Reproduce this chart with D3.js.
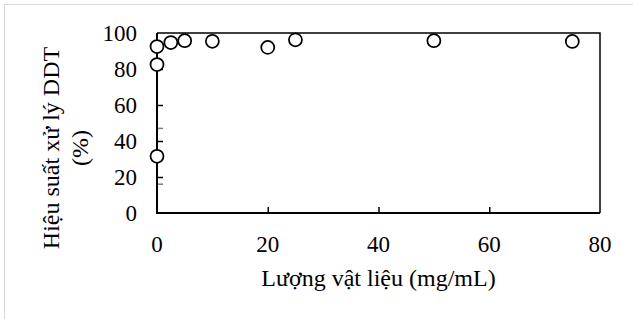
<!DOCTYPE html>
<html>
<head>
<meta charset="utf-8">
<script src="https://cdn.jsdelivr.net/npm/d3@7"></script>
<style>
  body { margin: 0; background: #fff; }
</style>
</head>
<body>
<div id="chart"></div>
<script>
var w = 633
var h = 319

// data
var amount = [0, 0, 0, 2.5, 5, 10, 20, 25, 50, 75]
var efficiency = [31.5, 82.5, 92.5, 94.7, 95.7, 95.4, 92, 96.2, 95.7, 95.3]
// error bar of the first point (low / high)
var errLow = [16, null, null, null, null, null, null, null, null, null]
var errHigh = [47, null, null, null, null, null, null, null, null, null]

var xTicks = [0, 20, 40, 60, 80]
var yTicks = [0, 20, 40, 60, 80, 100]

var xTitle = "Lượng vật liệu (mg/mL)"
var yTitle1 = "Hiệu suất xử lý DDT"
var yTitle2 = "(%)"

var font = "'Liberation Serif'"
var fs = 23      // tick labels
var fsTitle = 24 // axis titles

var pLeft = 157, pRight = 600, pTop = 33, pBottom = 213

var svg = d3.select("#chart").append("svg").attr("width", w).attr("height", h)

// outer chart border
svg.append("rect")
    .attr("x", 4.5).attr("y", 4.5)
    .attr("width", w + 20).attr("height", h + 20)
    .attr("fill", "none")
    .attr("stroke", "#d9d9d9")
    .attr("stroke-width", 1)

var x = d3.scaleLinear().domain([0, 80]).range([pLeft, pRight])
var y = d3.scaleLinear().domain([0, 100]).range([pBottom, pTop])

svg.append("clipPath").attr("id", "plot")
    .append("rect")
    .attr("x", pLeft).attr("y", pTop - 10)
    .attr("width", pRight - pLeft + 10).attr("height", pBottom - pTop + 10)

// frame top + right
svg.append("path")
    .attr("d", "M" + pLeft + "," + pTop + "H" + pRight + "V" + pBottom)
    .attr("fill", "none")
    .attr("stroke", "#000")
    .attr("stroke-width", 1.5)

// x axis, ticks pointing inward
var xAxis = svg.append("g")
    .attr("transform", "translate(0," + pBottom + ")")
    .call(d3.axisTop(x).tickValues(xTicks).tickSize(6).tickFormat(""))
xAxis.select(".domain").remove()
xAxis.selectAll("line").attr("stroke", "#000").attr("stroke-width", 1.5)
xAxis.selectAll(".tick").filter(function(d) { return d == 0 || d == 80 }).remove()

svg.selectAll("text.xlab")
    .data(xTicks)
    .enter()
    .append("text")
    .attr("class", "xlab")
    .attr("x", function(d) { return x(d) })
    .attr("y", pBottom + 39)
    .attr("text-anchor", "middle")
    .style("font-family", font)
    .attr("font-size", fs)
    .text(function(d) { return d })

// y axis ticks pointing inward
var yAxis = svg.append("g")
    .attr("transform", "translate(" + pLeft + ",0)")
    .call(d3.axisRight(y).tickValues(yTicks).tickSize(6).tickFormat(""))
yAxis.select(".domain").remove()
yAxis.selectAll("line").attr("stroke", "#000").attr("stroke-width", 1.5)
yAxis.selectAll(".tick").filter(function(d) { return d == 0 || d == 100 }).remove()

svg.selectAll("text.ylab")
    .data(yTicks)
    .enter()
    .append("text")
    .attr("class", "ylab")
    .attr("x", pLeft - 20)
    .attr("y", function(d) { return y(d) + 8 })
    .attr("text-anchor", "end")
    .style("font-family", font)
    .attr("font-size", fs)
    .text(function(d) { return d })

// error bars (gray), clipped to the plot area
var eb = svg.append("g").attr("clip-path", "url(#plot)")
amount.forEach(function(a, i) {
    if (errLow[i] == null) return
    eb.append("line")
        .attr("x1", x(a)).attr("x2", x(a))
        .attr("y1", y(errLow[i])).attr("y2", y(errHigh[i]))
        .attr("stroke", "#7f7f7f").attr("stroke-width", 1.5)
    ;[errLow[i], errHigh[i]].forEach(function(v) {
        eb.append("line")
            .attr("x1", x(a) - 6).attr("x2", x(a) + 6)
            .attr("y1", y(v)).attr("y2", y(v))
            .attr("stroke", "#7f7f7f").attr("stroke-width", 1.5)
    })
})

// left + bottom axis lines
svg.append("path")
    .attr("d", "M" + pLeft + "," + pTop + "V" + pBottom + "H" + pRight)
    .attr("fill", "none")
    .attr("stroke", "#000")
    .attr("stroke-width", 2)

// points
svg.selectAll("circle.pt")
    .data(amount)
    .enter()
    .append("circle")
    .attr("class", "pt")
    .attr("cx", function(d) { return x(d) })
    .attr("cy", function(d, i) { return y(efficiency[i]) })
    .attr("r", 6.5)
    .attr("fill", "#fff")
    .attr("stroke", "#000")
    .attr("stroke-width", 1.75)

// axis titles
svg.append("text")
    .attr("x", (pLeft + pRight) / 2)
    .attr("y", 286)
    .attr("text-anchor", "middle")
    .style("font-family", font)
    .attr("font-size", fsTitle)
    .text(xTitle)

var yt = svg.append("text")
    .attr("transform", "translate(59,148) rotate(-90)")
    .attr("text-anchor", "middle")
    .style("font-family", font)
    .attr("font-size", fsTitle)
yt.append("tspan").attr("x", 0).attr("y", 0).text(yTitle1)
yt.append("tspan").attr("x", 0).attr("y", 29).text(yTitle2)
</script>
</body>
</html>
